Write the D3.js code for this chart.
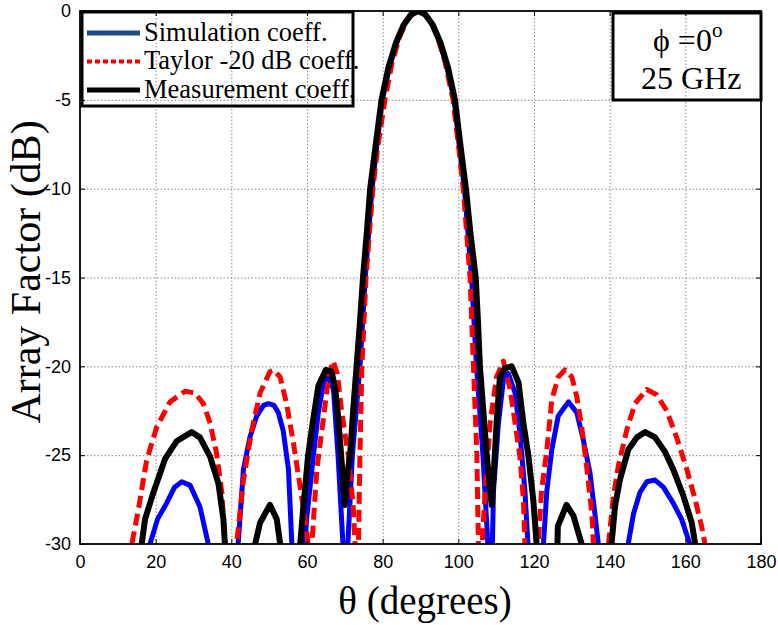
<!DOCTYPE html>
<html>
<head>
<meta charset="utf-8">
<script src="https://cdn.jsdelivr.net/npm/d3@7"></script>
<style>
  html, body { margin: 0; padding: 0; background: #fff; }
  svg { display: block; }
</style>
</head>
<body>
<svg id="chart" width="778" height="625"></svg>
<script>
// Array factor vs. elevation angle, three sets of excitation coefficients.
// Values below the -30 dB floor are clipped by the plot area.

const xTicks = [0, 20, 40, 60, 80, 100, 120, 140, 160, 180];
const yTicks = [-30, -25, -20, -15, -10, -5, 0];

const legendLabels = ["Simulation coeff.", "Taylor -20 dB coeff.", "Measurement coeff."];
const boxLines = ["ϕ =0", "25 GHz"];

// Simulation coefficients (theta in degrees, array factor in dB)
const simTheta = [
  17.8, 18.5, 20.5, 22.9, 25, 26.9, 29.1, 31.7, 33.9, 34.6,
  41.2, 41.8, 43.2, 44.9, 46.7, 48.5, 49.8, 51.3, 52.4, 53.7, 55.1, 56, 56.6,
  58.9, 59.5, 59.9, 61.7, 63, 64.3, 65.4, 67, 68.2, 69.5, 70.4, 70.8, 72, 74, 75.4, 77.2,
  78.5, 79.9, 82, 84, 86, 88, 89.4, 90.8, 92.8, 94.8, 96.8, 98.9, 100.2, 101.6, 103.5,
  104.8, 106.5, 107.8, 108.5, 109, 109.3, 110.6, 111.9, 113.2, 115, 116.3, 117.6, 118.4, 119,
  121.9, 122.5, 123.4, 124.7, 126.4, 129.1, 131.3, 133, 134.8, 136.1, 137, 137.6,
  144.3, 144.9, 146.3, 148, 149.8, 152, 154.2, 156.8, 159, 161.2, 161.8
];
const simDb = [
  -34, -30, -28.6, -27.7, -26.8, -26.5, -26.7, -27.9, -30, -34,
  -34, -30, -25.8, -24, -22.8, -22.2, -22.1, -22.2, -22.6, -23.6, -25.8, -30, -34,
  -34, -30, -28.6, -25, -22.6, -21, -20.5, -21.3, -25, -30, -45, -30, -25, -20, -15, -10,
  -7.5, -5, -3.0, -1.6, -0.64, -0.11, 0, -0.11, -0.64, -1.6, -3.0, -5, -7.5, -10, -15,
  -20, -25, -30, -45, -30, -27, -23.2, -20.8, -20.4, -21.5, -23.8, -27, -30, -34,
  -34, -30, -27, -24.7, -22.8, -22, -22.6, -24.1, -26, -28.3, -30, -34,
  -34, -30, -28.3, -27.1, -26.5, -26.4, -26.8, -27.7, -28.6, -30, -34
];

// Taylor -20 dB coefficients
const taylorTheta = [
  13, 13.7, 15.4, 17.6, 20.3, 23.8, 27.8, 30.4, 32.6, 34.4, 36.1, 37.5, 38.3, 39,
  40.8, 41.4, 43.2, 45.4, 47.6, 50.2, 51.2, 52.9, 54.6, 56.4, 58.2, 59.5, 60.3, 60.7,
  60.9, 61.3, 62.6, 64.3, 65.7, 66.9, 68, 69.2, 70.9, 72.2, 72.7, 73.1, 73.6, 74, 74.5,
  75.6, 77.4, 78.8, 80.6, 82.5, 84.5, 86.5, 88.5, 89.5, 90.5, 92.5, 94.5, 96.5, 98.6,
  100, 101.3, 103.1, 104, 104.9, 105.3, 105.7, 106.3, 107.1, 108.4, 110.1, 111.9, 113.7,
  115, 116.3, 117.2, 117.6, 118.2,
  120.5, 121.1, 122, 123.4, 124.7, 126.4, 128.2, 130, 131.3, 132.6, 133.9, 135.3, 135.7, 136.3,
  139.1, 139.7, 141, 142.3, 144.5, 146.7, 149.8, 152.4, 155.1, 157.7, 160.4, 162.6, 164.3, 165.2, 165.8
];
const taylorDb = [
  -34, -30, -28.1, -25.3, -23.4, -22, -21.4, -21.5, -22.1, -23.2, -24.9, -27.1, -30, -34,
  -34, -30, -26.4, -23.6, -21.5, -20.3, -20.2, -20.6, -22.1, -24.3, -26.8, -28.6, -30, -34,
  -34, -30, -25.8, -23, -20.6, -19.7, -20.4, -22.6, -25, -27.8, -30, -45, -30, -25, -20,
  -15, -10, -7.5, -5, -2.9, -1.45, -0.5, -0.05, 0, -0.05, -0.5, -1.45, -2.9, -5,
  -7.5, -10, -15, -20, -25, -30, -45, -30, -27, -23.2, -20.6, -19.7, -21.3,
  -23.2, -25.1, -27.5, -30, -34,
  -34, -30, -27, -24.7, -21.9, -20.6, -20.2, -20.6, -21.7, -23.4, -25.6, -28.3, -30, -34,
  -34, -30, -27.3, -25.6, -23.6, -22.1, -21.3, -21.6, -22.5, -24, -25.8, -27.5, -29, -30, -34
];

// Measured coefficients
const measTheta = [
  15.5, 16.3, 17.2, 19.4, 22.5, 25.6, 29.5, 31.7, 34.4, 36.6, 37.9, 38.3, 39,
  45.8, 46.3, 47.6, 50.2, 52, 52.9, 53.5,
  57.6, 58.2, 59, 60.3, 61.5, 63, 65, 66.5, 67.5, 68.3, 69.2, 70, 70.7, 71.4, 72.2,
  73.1, 74, 74.8, 75.8, 76.7, 78, 79.7, 81.5, 83.5, 85.5, 87.5, 89.4, 91.3, 93.3, 95.3,
  97.3, 99.1, 100.7, 102, 103.2, 104.6, 105.2, 105.7, 106.6, 107.5, 108.2, 108.8, 109.5,
  110.1, 111, 112.3, 114.1, 115.9, 117.2, 118.5, 119.8, 120.7, 121.3,
  125.8, 126.3, 128.6, 130.4, 132.6, 133.2,
  139.9, 140.5, 141.4, 142.7, 144.9, 147.2, 149.4, 152, 154.6, 156.8, 159.5, 161.7, 162.6, 163.2
];
const measDb = [
  -34, -30, -28.6, -27.1, -25.2, -24.2, -23.7, -24, -25.1, -26.6, -28.6, -30, -34,
  -34, -30, -28.8, -27.8, -28.6, -30, -34,
  -34, -30, -28, -25, -23.2, -21.1, -20.2, -20.3, -21.3, -23, -25.5, -27.8, -26, -25, -22.5,
  -20, -17.5, -15, -12.5, -10, -7.8, -5, -3.2, -1.8, -0.8, -0.2, 0, -0.2, -0.8, -1.8,
  -3.2, -5, -7.8, -10, -12.5, -15, -17.5, -20, -22.5, -25, -26.5, -27.8, -25.5,
  -23.2, -20.6, -20.1, -20.0, -20.9, -23.2, -25, -27.5, -30, -34,
  -34, -29, -27.8, -28.4, -30, -34,
  -34, -30, -27.9, -26.4, -24.7, -24, -23.7, -24, -24.8, -25.8, -27.3, -28.8, -30, -34
];

const series = [
  { theta: simTheta,    db: simDb,    color: "#0000ff", width: 5, dash: null,   legendColor: "#1f4a85", legendDash: null,  legendWidth: 5 },
  { theta: taylorTheta, db: taylorDb, color: "#ff0000", width: 5, dash: "12,6", legendColor: "#ff0000", legendDash: "5,3", legendWidth: 4 },
  { theta: measTheta,   db: measDb,   color: "#000000", width: 6, dash: null,   legendColor: "#000000", legendDash: null,  legendWidth: 5 }
];

const svg = d3.select("#chart");
const plotL = 80, plotR = 761, plotT = 11, plotB = 544;

const x = d3.scaleLinear().domain([0, 180]).range([plotL, plotR]);
const y = d3.scaleLinear().domain([-30, 0]).range([plotB, plotT]);

svg.append("defs").append("clipPath").attr("id", "plotClip")
  .append("rect").attr("x", plotL).attr("y", plotT)
  .attr("width", plotR - plotL).attr("height", plotB - plotT);

// dotted grid
const grid = svg.append("g").attr("stroke", "#8c8c8c").attr("stroke-width", 1)
  .attr("stroke-dasharray", "1.5,2");
grid.selectAll("line.gx").data(xTicks.slice(1, -1)).join("line")
  .attr("class", "gx")
  .attr("x1", d => x(d) + 0.5).attr("x2", d => x(d) + 0.5)
  .attr("y1", plotT).attr("y2", plotB);
grid.selectAll("line.gy").data(yTicks.slice(1, -1)).join("line")
  .attr("class", "gy")
  .attr("y1", d => y(d) + 0.5).attr("y2", d => y(d) + 0.5)
  .attr("x1", plotL).attr("x2", plotR);

// curves
const line = d3.line().x(d => x(d[0])).y(d => y(d[1]));
const curves = svg.append("g").attr("clip-path", "url(#plotClip)");
series.forEach(s => {
  const pts = s.theta.map((t, i) => [t, s.db[i]]);
  curves.append("path")
    .attr("d", line(pts))
    .attr("fill", "none")
    .attr("stroke", s.color)
    .attr("stroke-width", s.width)
    .attr("stroke-linejoin", "round")
    .attr("stroke-dasharray", s.dash);
});

// axes with inward ticks on all four sides
const fmt = d => String(d);
const tickFont = "'Liberation Sans', Arial, sans-serif";

const xAxis = svg.append("g").attr("transform", `translate(0,${plotB})`)
  .call(d3.axisBottom(x).tickValues(xTicks).tickFormat(fmt).tickSizeInner(-5).tickSizeOuter(0).tickPadding(11));
const yAxis = svg.append("g").attr("transform", `translate(${plotL},0)`)
  .call(d3.axisLeft(y).tickValues(yTicks).tickFormat(fmt).tickSizeInner(-5).tickSizeOuter(0).tickPadding(9));
const xTop = svg.append("g").attr("transform", `translate(0,${plotT})`)
  .call(d3.axisTop(x).tickValues(xTicks).tickFormat("").tickSizeInner(-5).tickSizeOuter(0));
const yRight = svg.append("g").attr("transform", `translate(${plotR},0)`)
  .call(d3.axisRight(y).tickValues(yTicks).tickFormat("").tickSizeInner(-5).tickSizeOuter(0));

[xAxis, yAxis, xTop, yRight].forEach(g => {
  g.select(".domain").remove();
  g.selectAll(".tick line").attr("stroke", "#000").attr("stroke-width", 1);
  g.selectAll(".tick text").attr("fill", "#000")
    .style("font-family", tickFont).style("font-size", "18px");
});

// axes box
svg.append("rect")
  .attr("x", plotL).attr("y", plotT)
  .attr("width", plotR - plotL).attr("height", plotB - plotT)
  .attr("fill", "none").attr("stroke", "#000").attr("stroke-width", 1.8);

// axis titles
const serif = "'Liberation Serif', 'Times New Roman', serif";
svg.append("text")
  .attr("x", 425).attr("y", 614)
  .attr("text-anchor", "middle")
  .style("font-family", serif).style("font-size", "39px")
  .text("θ (degrees)");
svg.append("text")
  .attr("transform", "translate(40,272) rotate(-90)")
  .attr("text-anchor", "middle")
  .style("font-family", serif).style("font-size", "42px")
  .text("Array Factor (dB)");

// legend
const legend = svg.append("g");
legend.append("rect")
  .attr("x", 82).attr("y", 12).attr("width", 271).attr("height", 94)
  .attr("fill", "none").attr("stroke", "#000").attr("stroke-width", 3);
series.forEach((s, i) => {
  const cy = 33 + i * 28.5;
  legend.append("line")
    .attr("x1", 87).attr("x2", 140).attr("y1", cy).attr("y2", cy)
    .attr("stroke", s.legendColor).attr("stroke-width", s.legendWidth)
    .attr("stroke-dasharray", s.legendDash);
  legend.append("text")
    .attr("x", 144).attr("y", cy + 7.5)
    .style("font-family", serif).style("font-size", "26.5px")
    .text(legendLabels[i]);
});

// condition box
const box = svg.append("g");
box.append("rect")
  .attr("x", 613).attr("y", 13).attr("width", 148).attr("height", 87)
  .attr("fill", "none").attr("stroke", "#000").attr("stroke-width", 3);
const l1 = box.append("text")
  .attr("x", 653).attr("y", 51)
  .style("font-family", serif).style("font-size", "32px")
  .text(boxLines[0]);
l1.append("tspan").attr("dy", -14).style("font-size", "21px").text("o");
box.append("text")
  .attr("x", 641).attr("y", 89)
  .style("font-family", serif).style("font-size", "32px")
  .text(boxLines[1]);
</script>
</body>
</html>
